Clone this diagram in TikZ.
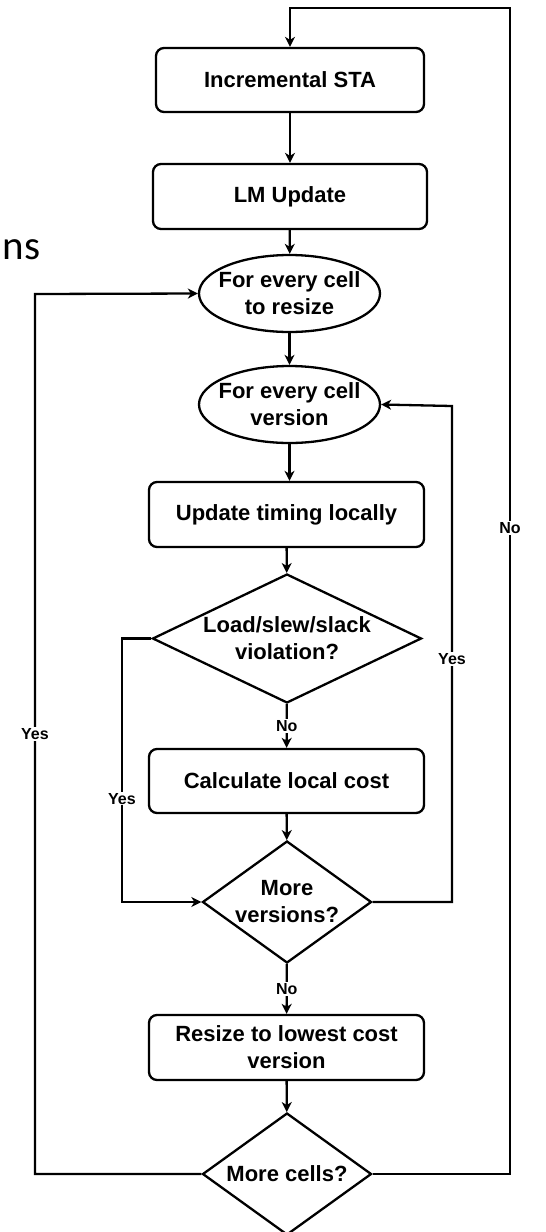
\documentclass[tikz,border=0pt]{standalone}
\usepackage{fontspec}
\setmainfont{Liberation Sans}
\newfontfamily\slidefont{Carlito}
\usepackage{tikz}
\usetikzlibrary{arrows.meta,shapes.geometric}

\tikzset{
    arr/.style={-{Stealth[length=10pt,width=10pt,inset=3pt]}},
    stepbox/.style={draw, rounded corners=8pt, minimum height=65pt, inner sep=0pt, align=center},
    loopbox/.style={draw, ellipse, minimum width=181pt, minimum height=77pt, inner sep=0pt},
    testbox/.style={draw, diamond, inner sep=0pt, align=center},
    looptext/.style={align=center, font=\bfseries\fontsize{22}{27}\selectfont},
    lbl/.style={fill=white, inner sep=1pt, font=\bfseries\fontsize{16}{18}\selectfont}
}

\begin{document}
\begin{tikzpicture}[x=1pt, y=-1pt, line width=2.3pt, font=\bfseries\fontsize{22}{27}\selectfont]
    \useasboundingbox (0,0) rectangle (546,1232);
    % leftover of the slide title
    \node[anchor=base east, font=\slidefont\fontsize{41}{41}\selectfont] (ns) at (45,259) {ns};

    \node[stepbox, minimum width=268pt, minimum height=64pt] (sta) at (290,80) {Incremental STA};
    \node[stepbox, minimum width=274pt] (lm) at (290,196.5) {LM Update};
    \node[loopbox, label={[looptext]center:For every cell\\to resize}] (resize) at (289.5,293.5) {};
    \node[loopbox, label={[looptext]center:For every cell\\version}] (version) at (289.5,404.5) {};
    \node[stepbox, minimum width=275pt] (timing) at (286.5,514.5) {Update timing locally};
    \node[testbox, aspect=2.085, minimum width=269pt, minimum height=129pt] (viol) at (287,638.5) {Load/slew/slack\\violation?};
    \node[stepbox, minimum width=275pt, minimum height=64pt] (cost) at (286.5,781) {Calculate local cost};
    \node[testbox, aspect=1.385, minimum width=169pt, minimum height=122pt] (more) at (287,902) {More\\versions?};
    \node[stepbox, minimum width=275pt] (lowest) at (286.5,1047.5) {Resize to lowest cost\\version};
    \node[testbox, aspect=1.385, minimum width=169pt, minimum height=122pt] (cells) at (287,1174) {More cells?};

    \coordinate (ne) at (510,8);
    \coordinate (leftrail) at (35,294);
    \coordinate (rightrail) at (452,406);
    \coordinate (yesrail) at (122,902);

    % straight flow
    \draw[arr] (sta) -- (lm);
    \draw[arr] (lm) -- (resize);
    \draw[arr] (resize) -- (version);
    \draw[arr] (version.south) -- (version.south |- timing.north);
    \draw[arr] (timing) -- (viol);
    \draw[arr] (viol) -- node[lbl] {No} (cost);
    \draw[arr] (cost) -- (more);
    \draw[arr] (more) -- node[lbl] {No} (lowest);
    \draw[arr] (lowest) -- (cells);

    % loops back
    \draw[arr] (viol.west) -| node[lbl, pos=0.804] {Yes} (yesrail) -- (more.west);
    \draw[arr] (more.east) -| node[lbl, pos=0.745] {Yes} (rightrail) -- (version.east);
    \draw[arr] (cells.west) -| node[lbl, pos=0.75] {Yes} (leftrail) -- (resize.west);
    \draw[arr] (cells.east) -| node[lbl, pos=0.777] {No} (ne) -| (sta.north);
\end{tikzpicture}
\end{document}
